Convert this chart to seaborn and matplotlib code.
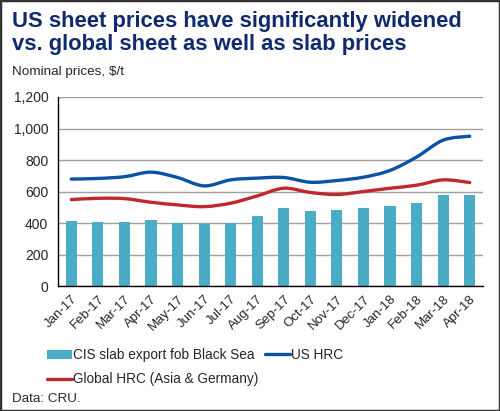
import matplotlib
matplotlib.use('Agg')
import matplotlib.pyplot as plt
from matplotlib.path import Path
from matplotlib.patches import PathPatch, Rectangle, Patch
from matplotlib.lines import Line2D
import numpy as np
import pandas as pd
import seaborn as sns

months = ['Jan-17', 'Feb-17', 'Mar-17', 'Apr-17', 'May-17', 'Jun-17', 'Jul-17', 'Aug-17',
          'Sep-17', 'Oct-17', 'Nov-17', 'Dec-17', 'Jan-18', 'Feb-18', 'Mar-18', 'Apr-18']
cis_slab = [413, 408, 408, 417, 400, 396, 400, 445, 498, 474, 483, 494, 509, 528, 577, 581]
us_hrc = [679, 683, 694, 723, 689, 636, 674, 685, 689, 659, 670, 691, 734, 819, 926, 951]
global_hrc = [549, 557, 555, 532, 515, 504, 526, 572, 621, 594, 581, 600, 621, 640, 674, 657]

yticks = [0, 200, 400, 600, 800, 1000, 1200]

bar_col = '#4bacc6'
us_col = '#0a52a5'
gl_col = '#c0282d'
title_col = '#0f2a6e'

sns.set_style('white')
plt.rcParams['font.family'] = ['Liberation Sans', 'DejaVu Sans']

df = pd.DataFrame({'month': months, 'cis': cis_slab})

fig = plt.figure(figsize=(5, 4.11), dpi=100)
ax = fig.add_axes([0.116, 0.304, 0.85, 0.46])

sns.barplot(data=df, x='month', y='cis', color=bar_col, width=0.42, saturation=1,
            edgecolor='none', linewidth=0, ax=ax)


def smooth_path(xs, ys):
    # excel-style smoothed line: catmull-rom segments as cubic bezier
    pts = np.column_stack([xs, ys]).astype(float)
    ext = np.vstack([pts[0], pts, pts[-1]])
    verts = [pts[0]]
    codes = [Path.MOVETO]
    for i in range(1, len(ext) - 2):
        p0, p1, p2, p3 = ext[i - 1], ext[i], ext[i + 1], ext[i + 2]
        c1 = p1 + (p2 - p0) / 6
        c2 = p2 - (p3 - p1) / 6
        verts += [c1, c2, p2]
        codes += [Path.CURVE4] * 3
    return Path(verts, codes)


xs = np.arange(len(months))
for vals, col in [(global_hrc, gl_col), (us_hrc, us_col)]:
    ax.add_patch(PathPatch(smooth_path(xs, vals), fill=False, edgecolor=col, lw=2.4,
                           capstyle='round', zorder=3))

ax.set_ylim(0, 1200)
ax.set_xlim(-0.5, len(months) - 0.5)
ax.set_yticks(yticks)
ax.set_yticklabels([f'{v:,}' for v in yticks], fontsize=10)
ax.set_xticks(xs)
ax.set_xticklabels(months, rotation=45, ha='right', rotation_mode='anchor', fontsize=9.5)
ax.set_xticks(np.arange(-0.5, len(months)), minor=True)
ax.tick_params(axis='x', which='major', length=0, pad=5)
ax.tick_params(axis='x', which='minor', length=4, width=1, color='black', direction='out')
ax.tick_params(axis='y', length=4, width=1, color='black', direction='out', pad=3)
ax.set_xlabel('')
ax.set_ylabel('')
ax.yaxis.grid(True, color='#a0a0a0', lw=1)
ax.set_axisbelow(True)
for s in ['top', 'right']:
    ax.spines[s].set_visible(False)
for s in ['left', 'bottom']:
    ax.spines[s].set_color('black')
    ax.spines[s].set_linewidth(1)

fig.text(0.024, 0.974, 'US sheet prices have significantly widened\nvs. global sheet as well as slab prices',
         fontsize=15.8, fontweight='bold', color=title_col, va='top', ha='left', linespacing=1.12)
fig.text(0.024, 0.825, 'Nominal prices, $/t', fontsize=9.7, va='center', ha='left')

handles = [Patch(facecolor=bar_col, edgecolor='none'),
           Line2D([], [], color=gl_col, lw=2.4),
           Line2D([], [], color=us_col, lw=2.4)]
labels = ['CIS slab export fob Black Sea', 'Global HRC (Asia & Germany)', 'US HRC']
fig.legend(handles, labels, ncol=2, loc='upper left', bbox_to_anchor=(0.094, 0.153),
           frameon=False, fontsize=9.8, handlelength=1.8, handletextpad=0.1,
           columnspacing=0.5, labelspacing=0.75, borderaxespad=0, borderpad=0)
fig.text(0.024, 0.028, 'Data: CRU.', fontsize=9.6, va='center', ha='left')

fig.patches.append(Rectangle((0, 0), 1, 1, transform=fig.transFigure, fill=False,
                             edgecolor='#333333', lw=2.5))

fig.savefig('out.png', dpi=100)
